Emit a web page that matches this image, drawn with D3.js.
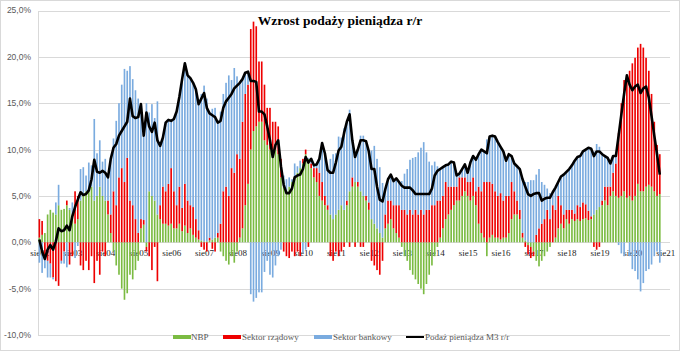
<!DOCTYPE html>
<html><head><meta charset="utf-8">
<script src="https://cdn.jsdelivr.net/npm/d3@7"></script>
<style>body{margin:0;background:#fff}svg{display:block}</style>
</head><body><svg id="c" width="680" height="351"></svg>
<script>
// ---- data (monthly, Aug 2002 .. Jun 2021) ----
const startYear = 2002, startMonth = 7, nCategories = 230;
const m3 = [0.3,-1.0,-1.8,-0.8,-0.3,-0.8,0.1,1.5,1.2,1.3,1.8,1.3,2.8,3.8,4.6,5.4,5.1,5.2,5.6,6.8,8.9,7.6,7.5,7.7,7.5,7.0,9.0,10.2,10.6,11.5,12.0,12.5,13.0,15.5,13.6,13.4,13.5,14.9,11.5,14.0,12.5,11.9,12.9,11.0,10.4,11.3,12.9,13.2,13.1,13.3,14.1,15.7,17.6,19.3,18.0,17.7,17.2,16.5,14.9,15.5,16.1,14.5,13.9,13.7,13.5,12.9,13.1,14.5,15.2,15.6,16.0,16.6,16.9,17.2,17.6,18.3,18.4,17.4,17.4,17.3,14.1,14.1,13.8,12.5,11.0,9.2,10.5,11.0,8.2,6.2,5.3,5.3,5.8,7.0,7.2,7.3,7.9,9.2,8.6,9.0,8.3,8.4,9.0,10.7,9.6,7.8,7.5,7.5,8.6,9.9,10.3,11.8,13.0,13.8,11.0,9.2,10.0,11.0,11.0,10.9,9.8,7.9,7.9,6.0,4.6,4.4,5.7,6.8,7.3,6.6,6.9,6.5,6.1,5.9,5.9,5.9,5.6,5.2,5.2,5.2,5.2,5.2,5.2,5.8,7.2,7.7,7.9,8.1,8.3,8.4,8.7,8.6,7.2,7.4,7.9,8.4,7.5,8.6,9.3,8.9,9.5,10.0,9.8,9.6,11.4,11.5,11.4,10.8,10.3,9.8,8.8,9.5,9.3,8.5,8.2,7.9,6.8,6.0,5.2,5.0,5.2,5.3,5.3,4.5,4.7,4.8,4.8,5.4,5.9,6.5,7.1,7.3,7.6,7.9,8.3,8.8,9.2,9.3,9.8,10.0,10.2,10.1,9.3,9.8,9.8,9.5,9.3,9.1,8.5,9.3,9.3,11.5,13.8,16.0,18.0,17.0,16.4,16.8,17.0,16.1,16.6,16.8,15.6,13.6,11.5,9.5,7.3];
const nbp = [0.5,0.8,1.0,3.0,3.5,3.2,3.0,4.0,3.5,3.6,4.0,3.5,3.0,2.0,2.5,4.5,5.0,5.5,5.8,6.0,4.5,5.0,6.0,5.0,4.5,3.0,1.0,-1.0,-2.5,-3.5,-5.0,-6.2,-5.5,-3.5,-4.0,-3.0,-2.0,1.5,1.9,-0.5,5.5,5.0,4.5,3.0,2.5,2.0,2.0,1.8,2.0,1.5,1.5,2.0,1.2,1.8,1.0,1.5,0.8,0.5,0.3,0.2,0.1,0.1,0.2,0.3,0.5,0.5,-1.0,-1.5,-2.0,-2.4,-1.5,-2.2,-1.0,0.5,1.5,4.0,6.3,10.0,12.0,12.5,13.0,13.0,11.0,10.5,10.0,10.0,10.0,9.5,7.0,6.0,5.5,6.0,6.5,7.0,7.5,8.0,8.5,9.5,9.0,8.0,7.0,6.5,5.0,4.5,4.0,3.5,3.0,2.5,3.0,3.5,4.0,3.5,4.0,5.5,6.0,6.5,6.0,5.5,5.0,4.5,3.5,2.5,2.0,1.5,1.0,0.5,1.5,2.0,2.5,1.5,1.0,0.5,-0.5,-1.5,-2.0,-3.0,-3.5,-4.0,-4.5,-5.0,-5.6,-4.5,-3.5,-2.5,-1.5,-0.5,0.5,1.5,2.5,3.0,3.5,4.0,4.5,4.5,5.0,5.5,5.0,4.5,5.0,4.0,2.0,1.0,0.5,-1.5,0.5,0.8,0.5,0.5,0.3,0.5,0.5,1.0,2.5,3.0,3.0,2.5,0.5,0.2,-0.3,-0.5,-1.0,-2.0,-2.6,-2.0,-1.5,-1.0,-0.5,0.0,0.5,1.5,2.0,1.5,2.5,2.0,2.5,2.3,2.5,2.3,2.5,2.6,2.4,2.5,3.0,3.5,3.8,4.0,4.5,4.0,5.0,5.5,5.0,4.8,5.0,5.5,4.8,5.0,4.5,5.0,6.3,5.5,5.5,6.0,6.2,6.0,5.5,5.0,5.2];
const gov = [2.0,1.5,-1.5,-2.0,-2.3,-3.8,-4.2,-4.7,-2.0,-1.0,0.5,-2.4,-1.5,3.5,2.5,-2.5,-3.0,-2.0,-3.0,-1.5,-4.4,-2.0,-3.5,-1.0,-1.5,1.5,2.0,5.5,4.0,7.0,8.0,6.5,9.1,4.5,4.0,2.5,1.0,1.0,0.5,-0.5,-1.5,-3.0,-0.5,-4.2,1.5,4.0,3.5,4.5,6.0,4.0,2.5,4.0,2.5,4.5,3.5,2.5,3.0,2.0,1.0,-0.5,-0.8,-1.0,0.3,-0.7,-1.0,0.5,2.0,5.5,6.0,5.0,8.0,7.5,9.5,8.5,11.5,12.0,10.7,13.0,11.8,10.8,6.5,6.5,6.0,4.0,4.5,3.0,3.0,3.0,2.0,-1.0,-1.5,-1.7,-1.0,-1.5,-1.0,-1.5,0.5,0.5,-0.5,0.5,1.0,1.5,2.5,2.0,1.0,0.5,-1.5,-2.0,-1.0,-1.5,-1.0,-0.5,0.5,-0.5,1.0,-0.5,0.5,-0.5,-0.5,0.5,0.8,-2.0,-2.5,-3.0,-3.5,-2.0,1.5,2.5,2.0,2.5,3.0,3.5,3.5,3.5,3.0,3.5,3.0,3.5,3.0,3.5,3.0,3.5,3.5,4.0,4.0,4.5,4.0,3.5,4.0,3.0,2.5,2.0,1.5,2.5,2.0,1.5,1.5,2.0,2.0,1.5,4.0,4.5,6.0,6.5,6.0,5.5,5.0,4.5,5.0,4.0,4.5,4.0,4.0,2.5,1.5,1.0,0.5,-0.5,-1.0,-1.2,-0.5,0.8,1.5,2.0,2.5,3.5,2.5,4.0,3.0,3.5,2.0,1.5,1.0,1.5,1.0,0.8,1.5,1.5,1.8,1.5,1.0,0.3,-0.5,-0.8,-0.5,0.5,1.5,2.0,1.0,2.0,3.5,7.0,10.0,12.0,13.2,13.5,14.8,14.9,14.7,15.9,15.5,13.9,12.3,10.0,7.5,5.5,4.3];
const bank = [-2.2,-3.3,-1.3,-1.8,-1.5,-0.2,1.3,2.2,-0.3,-1.3,-2.7,0.2,1.3,-1.7,-0.4,3.4,3.1,1.7,2.8,2.3,8.8,4.6,5.0,3.7,4.5,2.5,6.0,5.7,9.1,8.0,9.0,12.2,9.4,14.5,13.6,13.9,14.5,12.4,9.1,15.0,8.5,9.9,8.9,12.2,6.4,5.3,7.4,6.9,5.1,7.8,10.1,9.7,13.9,13.0,13.5,13.7,13.4,14.0,13.6,15.8,16.8,15.4,13.4,14.1,14.0,11.9,12.1,10.5,11.2,13.0,9.5,11.3,8.4,8.2,4.6,2.3,1.4,-5.6,-6.4,-6.0,-5.4,-5.4,-3.2,-2.0,-3.5,-3.8,-2.5,-1.5,-0.8,1.2,1.3,1.0,0.3,1.5,0.7,0.8,-1.1,-0.8,0.1,0.5,0.3,0.4,1.5,4.2,4.6,3.8,6.0,7.0,6.6,7.9,7.3,8.8,8.5,8.8,4.0,3.2,3.5,6.0,6.5,5.9,5.5,7.4,8.4,7.5,7.1,5.9,2.7,2.3,2.8,2.6,2.9,2.5,3.1,3.9,4.9,5.4,6.1,5.7,6.7,6.7,7.8,6.2,5.2,4.3,4.7,3.7,3.4,3.1,1.8,2.4,2.7,2.6,1.2,0.4,0.9,1.4,1.0,2.1,2.3,3.4,3.5,4.5,3.3,4.6,4.9,5.2,5.9,5.8,5.0,5.3,3.8,4.5,2.8,3.0,3.7,4.4,5.8,6.3,6.5,6.7,6.7,6.5,6.4,4.5,3.7,2.3,2.8,1.4,2.4,1.5,3.1,4.3,4.1,4.4,4.8,5.7,5.2,5.5,5.5,5.9,6.8,7.3,6.8,7.1,6.5,5.0,3.3,3.1,2.5,1.8,0.8,-0.3,-1.2,-1.5,0.0,-1.5,-2.9,-3.1,-4.0,-5.3,-4.4,-3.1,-2.9,-2.4,-1.5,-1.0,-2.2];
const seriesNames = ["NBP", "Sektor rządowy", "Sektor bankowy"];
const lineName = "Podaż pieniądza M3 r/r";
const yTicks = [-10, -5, 0, 5, 10, 15, 20, 25];
const xTickLabels = ["sie02","sie03","sie04","sie05","sie06","sie07","sie08","sie09","sie10","sie11","sie12","sie13","sie14","sie15","sie16","sie17","sie18","sie19","sie20","sie21"];
const title = "Wzrost podaży pieniądza r/r";

// ---- build ----
const colors = {"NBP":"#7bbb42","Sektor rządowy":"#ee0000","Sektor bankowy":"#7aabdf"};
const categories = d3.range(nCategories).map(i => {
  const m = startMonth + i; return (startYear + Math.floor(m/12)) + "-" + String(m%12+1).padStart(2,"0");
});
const rows = m3.map((v,i) => ({cat: categories[i], "NBP": nbp[i], "Sektor rządowy": gov[i], "Sektor bankowy": bank[i], m3: v}));

const svg = d3.select("#c");
svg.append("rect").attr("x",0.5).attr("y",0.5).attr("width",679).attr("height",350).attr("fill","#fff").attr("stroke","#d9d9d9");

const x = d3.scaleBand().domain(categories).range([38, 669.4]).paddingInner(0.4).paddingOuter(0.2);
const y = d3.scaleLinear().domain([-10, 25]).range([335, 10.5]);
const cx = c => x(c) + x.bandwidth()/2;

// gridlines
svg.append("g").selectAll("line").data(yTicks).join("line")
  .attr("x1",38).attr("x2",670)
  .attr("y1",d=>Math.round(y(d))+0.5).attr("y2",d=>Math.round(y(d))+0.5)
  .attr("stroke","#d9d9d9").attr("stroke-width",1);
svg.append("line").attr("x1",38.5).attr("x2",38.5).attr("y1",Math.round(y(25))+0.5).attr("y2",Math.round(y(-10))+0.5).attr("stroke","#d9d9d9");

// y labels
const fmt = d => d3.format(".1f")(d).replace(".",",").replace("−","-") + "%";
svg.append("g").selectAll("text").data(yTicks).join("text")
  .attr("x",31).attr("y",d=>y(d)).attr("dy","0.35em").attr("text-anchor","end")
  .attr("font-family","Liberation Sans, Arial, sans-serif").attr("font-size",8.5).attr("fill","#595959")
  .text(fmt);

// x labels
svg.append("g").selectAll("text").data(xTickLabels).join("text")
  .attr("x",(d,k)=>cx(categories[k*12])+0.5).attr("y",256).attr("text-anchor","middle")
  .attr("font-family","Liberation Serif, Times New Roman, serif").attr("font-size",9).attr("fill","#262626")
  .text(d=>d);

// stacked bars
const stack = d3.stack().keys(seriesNames).offset(d3.stackOffsetDiverging);
const layers = stack(rows);
svg.append("g").selectAll("g").data(layers).join("g").attr("fill",d=>colors[d.key])
  .selectAll("rect").data(d=>d).join("rect")
  .attr("x",d=>x(d.data.cat)).attr("width",x.bandwidth())
  .attr("y",d=>y(Math.max(d[0],d[1]))).attr("height",d=>Math.abs(y(d[0])-y(d[1])));

// M3 line
svg.append("path").datum(rows)
  .attr("d", d3.line().x(d=>cx(d.cat)).y(d=>y(d.m3)))
  .attr("fill","none").attr("stroke","#000").attr("stroke-width",2.6).attr("stroke-linejoin","round");

// title
svg.append("text").attr("x",340).attr("y",25).attr("text-anchor","middle")
  .attr("font-family","Liberation Serif, Times New Roman, serif").attr("font-weight","bold").attr("font-size",13.5).attr("fill","#000")
  .text(title);

// legend
const lg = svg.append("g").attr("font-family","Liberation Serif, Times New Roman, serif").attr("font-size",9).attr("fill","#595959");
const legendItems = [
  {name: seriesNames[0], sx: 173, tx: 191, type: "rect"},
  {name: seriesNames[1], sx: 223, tx: 242, type: "rect"},
  {name: seriesNames[2], sx: 314, tx: 333, type: "rect"},
  {name: lineName, sx: 406, tx: 425, type: "line"}
];
legendItems.forEach(it => {
  if (it.type === "rect") lg.append("rect").attr("x",it.sx).attr("y",335).attr("width",18).attr("height",4).attr("fill",colors[it.name]);
  else lg.append("line").attr("x1",it.sx).attr("x2",it.sx+18).attr("y1",337).attr("y2",337).attr("stroke","#000").attr("stroke-width",2);
  lg.append("text").attr("x",it.tx).attr("y",340).text(it.name);
});
</script></body></html>
